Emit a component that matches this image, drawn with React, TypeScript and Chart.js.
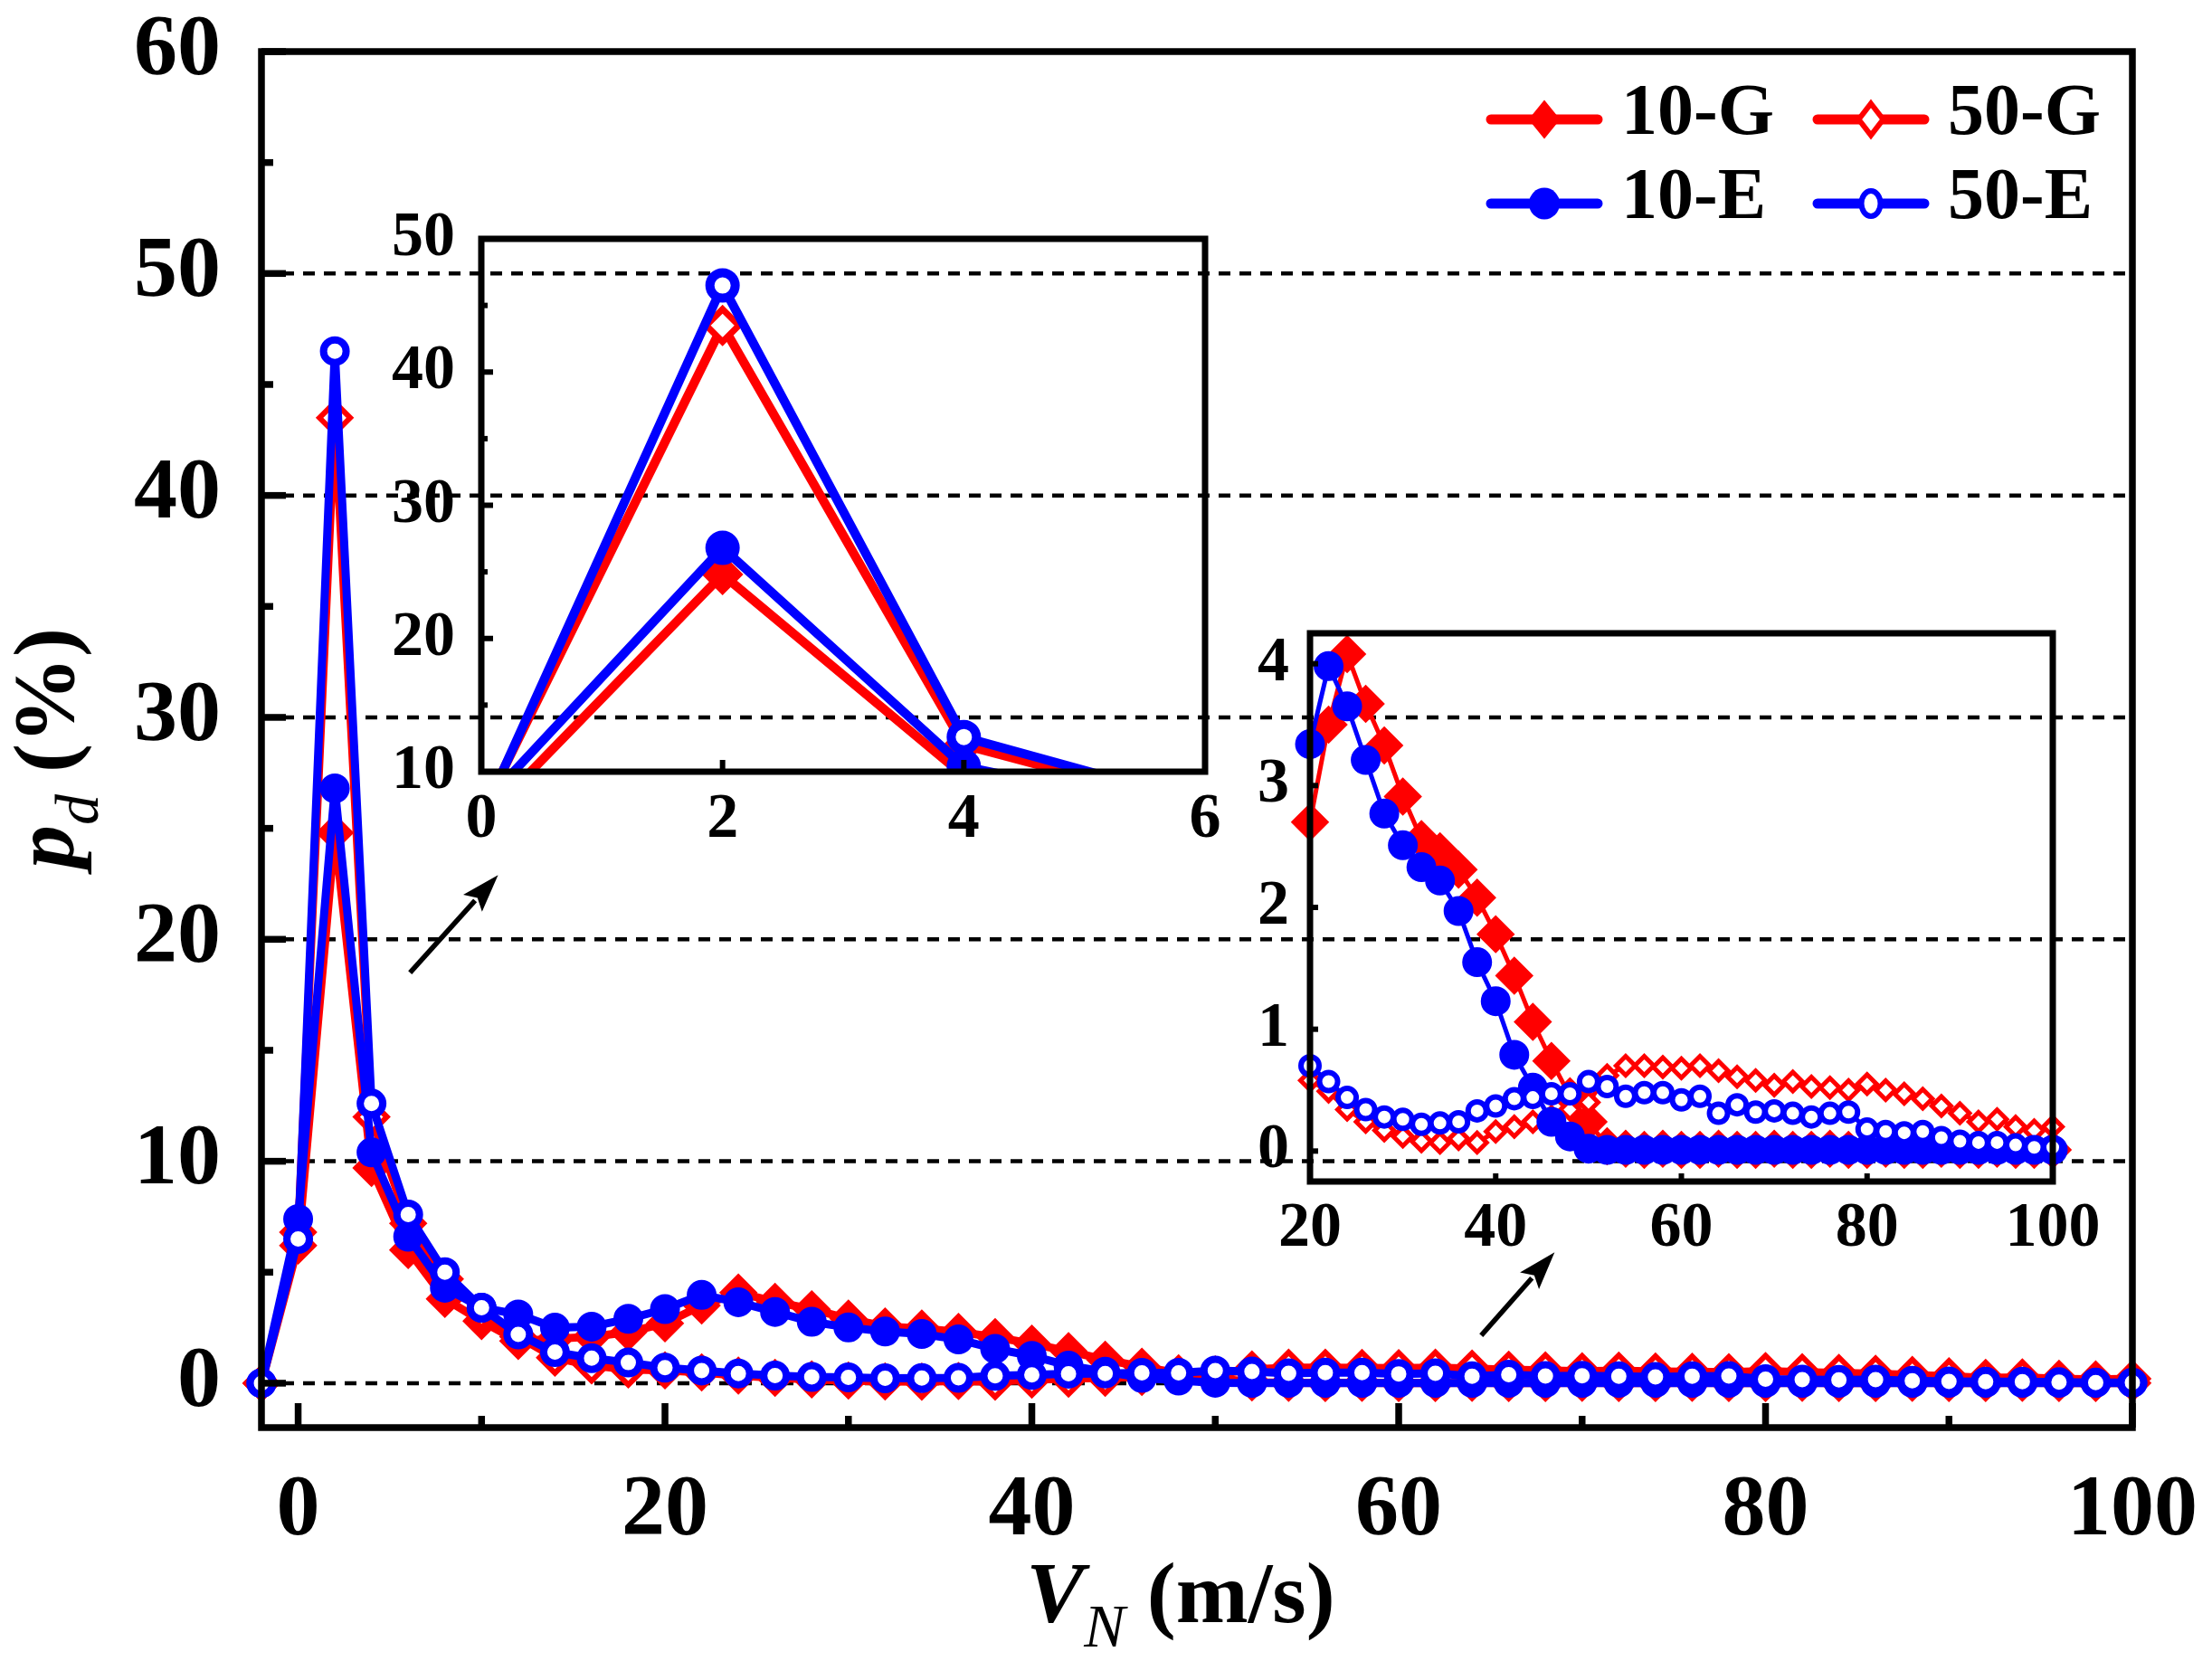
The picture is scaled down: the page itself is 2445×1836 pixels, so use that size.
import React, { useEffect, useRef } from "react";
import { Chart, registerables } from "chart.js";

Chart.register(...registerables);

// ---------------- data ----------------
const velocity = [
  -2, 0, 2, 4, 6, 8, 10, 12, 14, 16, 18, 20, 22, 24, 26, 28, 30, 32, 34, 36, 38, 40, 42, 44, 46, 48, 50,
  52, 54, 56, 58, 60, 62, 64, 66, 68, 70, 72, 74, 76, 78, 80, 82, 84, 86, 88, 90, 92, 94, 96, 98, 100,
];

const pd10G = [
  0, 6.2, 24.8, 9.7, 6.0, 3.8, 2.8, 1.9, 2.0, 2.1, 2.3, 2.7, 3.5, 4.08, 3.67, 3.33, 2.91, 2.56, 2.46, 2.31,
  2.08, 1.78, 1.44, 1.06, 0.74, 0.45, 0.24, 0.04, 0.02, 0.01, 0.02, 0.01, 0.01, 0.02, 0.01, 0.01, 0.02, 0.01,
  0.01, 0.02, 0.01, 0.01, 0.02, 0.01, 0.01, 0.02, 0.01, 0.01, 0.02, 0.01, 0.01, 0.01,
];

const pd50G = [
  0, 6.8, 43.5, 12.0, 7.2, 4.7, 3.2, 2.1, 1.15, 0.8, 0.62, 0.58, 0.49, 0.34, 0.24, 0.17, 0.12, 0.08, 0.07,
  0.1, 0.07, 0.16, 0.2, 0.24, 0.28, 0.34, 0.4, 0.62, 0.7, 0.7, 0.69, 0.68, 0.7, 0.66, 0.61, 0.58, 0.54, 0.57,
  0.53, 0.52, 0.5, 0.55, 0.5, 0.47, 0.43, 0.37, 0.31, 0.24, 0.26, 0.2, 0.17, 0.2,
];

const pd10E = [
  0, 7.4, 26.8, 10.4, 6.6, 4.3, 3.4, 3.1, 2.5, 2.55, 2.9, 3.34, 3.98, 3.65, 3.21, 2.77, 2.51, 2.33, 2.22,
  1.97, 1.55, 1.23, 0.79, 0.52, 0.24, 0.12, 0.02, 0.01, 0.01, 0.01, 0.01, 0.01, 0.01, 0.01, 0.01, 0.01, 0.01,
  0.01, 0.01, 0.01, 0.01, 0.01, 0.01, 0.01, 0.01, 0.01, 0.01, 0.01, 0.01, 0.01, 0.01, 0.01,
];

const pd50E = [
  0, 6.5, 46.5, 12.6, 7.6, 5.0, 3.4, 2.2, 1.4, 1.13, 0.93, 0.7, 0.57, 0.44, 0.34, 0.28, 0.26, 0.22, 0.23,
  0.24, 0.33, 0.37, 0.43, 0.44, 0.47, 0.47, 0.57, 0.53, 0.45, 0.48, 0.48, 0.42, 0.45, 0.31, 0.38, 0.32, 0.33,
  0.31, 0.28, 0.31, 0.32, 0.18, 0.16, 0.15, 0.16, 0.11, 0.08, 0.07, 0.07, 0.05, 0.03, 0.03,
];

const seriesLabels = ["10-G", "50-G", "10-E", "50-E"];

const mainXTicks = [0, 20, 40, 60, 80, 100];
const mainXMinor = [10, 30, 50, 70, 90];
const mainYTicks = [0, 10, 20, 30, 40, 50, 60];
const mainYMinor = [5, 15, 25, 35, 45, 55];
const mainGridValues = [0, 10, 20, 30, 40, 50];

const inset1XTicks = [0, 2, 4, 6];
const inset1YTicks = [10, 20, 30, 40, 50];
const inset1YMinor = [15, 25, 35, 45];

const inset2XTicks = [20, 40, 60, 80, 100];
const inset2YTicks = [0, 1, 2, 3, 4];

// annotation arrows (data coordinates of the main plot)
const arrowFrom = [
  [6.1, 18.5],
  [64.5, 2.15],
];
const arrowTo = [
  [10.9, 22.9],
  [68.5, 5.9],
];

// ---------------- styling ----------------
const FONT = "'Liberation Serif', 'Times New Roman', Times, serif";
const W = 2445;
const H = 1836;
const RED = "#ff0000";
const BLUE = "#0000ff";

type Box = { left: number; top: number; right: number; bottom: number };
const MAIN_BOX: Box = { left: 289, top: 57, right: 2357, bottom: 1578 };
const INSET1_BOX: Box = { left: 532, top: 264, right: 1332, bottom: 853 };
const INSET2_BOX: Box = { left: 1448, top: 700, right: 2269, bottom: 1306 };

const SERIES = [
  { label: seriesLabels[0], values: pd10G, color: RED, shape: "rectRot", open: false, order: 3, group: 10 },
  { label: seriesLabels[1], values: pd50G, color: RED, shape: "rectRot", open: true, order: 2, group: 50 },
  { label: seriesLabels[2], values: pd10E, color: BLUE, shape: "circle", open: false, order: 1, group: 10 },
  { label: seriesLabels[3], values: pd50E, color: BLUE, shape: "circle", open: true, order: 0, group: 50 },
];

type SizeFn = (s: (typeof SERIES)[number]) => [number, number];

function makeDatasets(lineWidth: number, size: SizeFn, xMin: number, xMax: number, clip: any) {
  return SERIES.map((s) => {
    const [r, bw] = size(s);
    return {
      label: s.label,
      data: velocity
        .map((x, i) => ({ x, y: s.values[i] }))
        .filter((p) => p.x >= xMin && p.x <= xMax),
      borderColor: s.color,
      backgroundColor: s.color,
      borderWidth: lineWidth,
      pointStyle: s.shape,
      pointRadius: r,
      pointHoverRadius: r,
      pointBorderWidth: bw,
      pointBackgroundColor: s.open ? "#ffffff" : s.color,
      pointBorderColor: s.color,
      order: s.order,
      clip,
      tension: 0,
    };
  });
}

type FrameOpts = {
  boxWidth: number;
  tickWidth: number;
  majorLen: number;
  minorLen: number;
  xMajor: number[];
  xMinor: number[];
  yMajor: number[];
  yMinor: number[];
  grid: number[];
};

function makeFramePlugin(o: FrameOpts) {
  return {
    id: "frameDecor",
    beforeDatasetsDraw(chart: any) {
      if (!o.grid.length) return;
      const { ctx, chartArea: a } = chart;
      const y = chart.scales.y;
      ctx.save();
      ctx.strokeStyle = "#000";
      ctx.lineWidth = 4.5;
      ctx.setLineDash([13, 10]);
      ctx.lineCap = "butt";
      for (const v of o.grid) {
        const py = y.getPixelForValue(v);
        ctx.beginPath();
        ctx.moveTo(a.left, py);
        ctx.lineTo(a.right, py);
        ctx.stroke();
      }
      ctx.restore();
    },
    afterDatasetsDraw(chart: any) {
      const { ctx, chartArea: a } = chart;
      const { x, y } = chart.scales;
      ctx.save();
      ctx.strokeStyle = "#000";
      ctx.setLineDash([]);
      ctx.lineCap = "butt";
      ctx.lineWidth = o.tickWidth;
      const seg = (x1: number, y1: number, x2: number, y2: number) => {
        ctx.beginPath();
        ctx.moveTo(x1, y1);
        ctx.lineTo(x2, y2);
        ctx.stroke();
      };
      for (const v of o.yMajor) {
        const py = y.getPixelForValue(v);
        seg(a.left, py, a.left + o.majorLen, py);
      }
      for (const v of o.yMinor) {
        const py = y.getPixelForValue(v);
        seg(a.left, py, a.left + o.minorLen, py);
      }
      for (const v of o.xMajor) {
        const px = x.getPixelForValue(v);
        seg(px, a.bottom, px, a.bottom - o.majorLen);
      }
      for (const v of o.xMinor) {
        const px = x.getPixelForValue(v);
        seg(px, a.bottom, px, a.bottom - o.minorLen);
      }
      ctx.lineWidth = o.boxWidth;
      ctx.lineJoin = "miter";
      ctx.strokeRect(a.left, a.top, a.right - a.left, a.bottom - a.top);
      ctx.restore();
    },
  };
}

function makeArrowPlugin() {
  return {
    id: "arrows",
    afterDatasetsDraw(chart: any) {
      const { ctx } = chart;
      const { x, y } = chart.scales;
      ctx.save();
      ctx.strokeStyle = "#000";
      ctx.fillStyle = "#000";
      ctx.lineWidth = 5.5;
      for (let i = 0; i < arrowFrom.length; i++) {
        const x1 = x.getPixelForValue(arrowFrom[i][0]);
        const y1 = y.getPixelForValue(arrowFrom[i][1]);
        const x2 = x.getPixelForValue(arrowTo[i][0]);
        const y2 = y.getPixelForValue(arrowTo[i][1]);
        const ang = Math.atan2(y2 - y1, x2 - x1);
        const headLen = 42;
        const headHalf = 14;
        const bx = x2 - headLen * Math.cos(ang);
        const by = y2 - headLen * Math.sin(ang);
        ctx.beginPath();
        ctx.moveTo(x1, y1);
        ctx.lineTo(bx + 4 * Math.cos(ang), by + 4 * Math.sin(ang));
        ctx.stroke();
        ctx.beginPath();
        ctx.moveTo(x2, y2);
        ctx.lineTo(bx + headHalf * Math.sin(ang), by - headHalf * Math.cos(ang));
        ctx.lineTo(bx + 8 * Math.cos(ang), by + 8 * Math.sin(ang));
        ctx.lineTo(bx - headHalf * Math.sin(ang), by + headHalf * Math.cos(ang));
        ctx.closePath();
        ctx.fill();
      }
      ctx.restore();
    },
  };
}

const LEGEND_COLS = [1642, 2003];
const LEGEND_ROWS = [132, 225];

function makeLegendPlugin() {
  return {
    id: "seriesLegend",
    afterDraw(chart: any) {
      const ctx = chart.ctx;
      SERIES.forEach((s, i) => {
        const x0 = LEGEND_COLS[i % 2];
        const yc = LEGEND_ROWS[Math.floor(i / 2)];
        ctx.save();
        ctx.strokeStyle = s.color;
        ctx.lineWidth = 11;
        ctx.lineCap = "round";
        ctx.beginPath();
        ctx.moveTo(x0 + 6, yc);
        ctx.lineTo(x0 + 124, yc);
        ctx.stroke();
        const cx = x0 + 65;
        ctx.lineCap = "butt";
        ctx.beginPath();
        if (s.shape === "rectRot") {
          const hw = s.open ? 13.5 : 17.5;
          const hh = s.open ? 17.5 : 21.5;
          ctx.moveTo(cx, yc - hh);
          ctx.lineTo(cx + hw, yc);
          ctx.lineTo(cx, yc + hh);
          ctx.lineTo(cx - hw, yc);
          ctx.closePath();
        } else if (s.open) {
          ctx.ellipse(cx, yc, 10.5, 14, 0, 0, Math.PI * 2);
        } else {
          ctx.ellipse(cx, yc, 17, 17.5, 0, 0, Math.PI * 2);
        }
        if (s.open) {
          ctx.fillStyle = "#ffffff";
          ctx.fill();
          ctx.lineWidth = 6;
          ctx.lineJoin = "miter";
          ctx.stroke();
        } else {
          ctx.fillStyle = s.color;
          ctx.fill();
        }
        ctx.fillStyle = "#000";
        ctx.font = `bold 80px ${FONT}`;
        ctx.textAlign = "left";
        ctx.textBaseline = "alphabetic";
        ctx.fillText(s.label, x0 + 150, yc + 16);
        ctx.restore();
      });
    },
  };
}

function zeroPad(s: any) {
  s.paddingLeft = 0;
  s.paddingRight = 0;
  s.paddingTop = 0;
  s.paddingBottom = 0;
}

function makeConfig(p: {
  box: Box;
  xMin: number;
  xMax: number;
  yMin: number;
  yMax: number;
  xTicks: number[];
  yTicks: number[];
  fontSize: number;
  xPad: number;
  yPad: number;
  datasets: any[];
  plugins: any[];
}) {
  const tickFont = { family: FONT, size: p.fontSize, weight: "bold" as const };
  return {
    type: "line" as const,
    data: { datasets: p.datasets },
    options: {
      responsive: false,
      animation: false as const,
      devicePixelRatio: 1,
      events: [] as any[],
      layout: {
        autoPadding: false,
        padding: { left: 0, top: p.box.top, right: W - p.box.right, bottom: 0 },
      },
      plugins: { legend: { display: false }, tooltip: { enabled: false } },
      scales: {
        x: {
          type: "linear" as const,
          min: p.xMin,
          max: p.xMax,
          grid: { display: false },
          border: { display: false },
          afterBuildTicks: (s: any) => {
            s.ticks = p.xTicks.map((v) => ({ value: v }));
          },
          afterFit: (s: any) => {
            s.height = H - p.box.bottom;
            zeroPad(s);
          },
          ticks: {
            font: tickFont,
            color: "#000",
            padding: p.xPad,
            maxRotation: 0,
            minRotation: 0,
            autoSkip: false,
          },
        },
        y: {
          type: "linear" as const,
          min: p.yMin,
          max: p.yMax,
          grid: { display: false },
          border: { display: false },
          afterBuildTicks: (s: any) => {
            s.ticks = p.yTicks.map((v) => ({ value: v }));
          },
          afterFit: (s: any) => {
            s.width = p.box.left;
            zeroPad(s);
          },
          ticks: { font: tickFont, color: "#000", padding: p.yPad, autoSkip: false },
        },
      },
    },
    plugins: p.plugins,
  };
}

export default function App() {
  const mainRef = useRef<HTMLCanvasElement>(null);
  const in1Ref = useRef<HTMLCanvasElement>(null);
  const in2Ref = useRef<HTMLCanvasElement>(null);

  useEffect(() => {
    const charts: Chart[] = [];

    const mainSize: SizeFn = (s) => (s.shape === "circle" ? [12.5, 8] : [17, 6]);
    charts.push(
      new Chart(
        mainRef.current as HTMLCanvasElement,
        makeConfig({
          box: MAIN_BOX,
          xMin: -2,
          xMax: 100,
          yMin: -2,
          yMax: 60,
          xTicks: mainXTicks,
          yTicks: mainYTicks,
          fontSize: 96,
          xPad: 28,
          yPad: 37,
          datasets: makeDatasets(9, mainSize, -2, 100, false),
          plugins: [
            makeFramePlugin({
              boxWidth: 7.5,
              tickWidth: 7.5,
              majorLen: 27,
              minorLen: 13,
              xMajor: mainXTicks,
              xMinor: mainXMinor,
              yMajor: mainYTicks,
              yMinor: mainYMinor,
              grid: mainGridValues,
            }),
            makeArrowPlugin(),
            makeLegendPlugin(),
          ],
        }) as any
      )
    );

    const in1Size: SizeFn = (s) => (s.shape === "circle" ? [14, 10] : [18, 7]);
    charts.push(
      new Chart(
        in1Ref.current as HTMLCanvasElement,
        makeConfig({
          box: INSET1_BOX,
          xMin: 0,
          xMax: 6,
          yMin: 10,
          yMax: 50,
          xTicks: inset1XTicks,
          yTicks: inset1YTicks,
          fontSize: 70,
          xPad: 4,
          yPad: 21,
          datasets: makeDatasets(10, in1Size, 0, 6, 0),
          plugins: [
            makeFramePlugin({
              boxWidth: 7,
              tickWidth: 6,
              majorLen: 13,
              minorLen: 7,
              xMajor: inset1XTicks,
              xMinor: [],
              yMajor: inset1YTicks,
              yMinor: inset1YMinor,
              grid: [],
            }),
          ],
        }) as any
      )
    );

    const in2Size: SizeFn = (s) => {
      if (s.group === 10) return s.shape === "circle" ? [12.5, 8] : [17, 6];
      return s.shape === "circle" ? [10, 6] : [10.5, 5];
    };
    charts.push(
      new Chart(
        in2Ref.current as HTMLCanvasElement,
        makeConfig({
          box: INSET2_BOX,
          xMin: 20,
          xMax: 100,
          yMin: -0.25,
          yMax: 4.25,
          xTicks: inset2XTicks,
          yTicks: inset2YTicks,
          fontSize: 70,
          xPad: 3,
          yPad: 15,
          datasets: makeDatasets(5, in2Size, 20, 100, false),
          plugins: [
            makeFramePlugin({
              boxWidth: 7,
              tickWidth: 6,
              majorLen: 9,
              minorLen: 5,
              xMajor: inset2XTicks,
              xMinor: [],
              yMajor: inset2YTicks,
              yMinor: [],
              grid: [],
            }),
          ],
        }) as any
      )
    );

    return () => charts.forEach((c) => c.destroy());
  }, []);

  const canvasStyle: React.CSSProperties = { position: "absolute", left: 0, top: 0, width: W, height: H };
  const titleBase: React.CSSProperties = {
    position: "absolute",
    fontFamily: FONT,
    fontWeight: "bold",
    fontSize: 96,
    lineHeight: 1,
    whiteSpace: "nowrap",
    color: "#000",
  };
  const subStyle: React.CSSProperties = {
    fontStyle: "italic",
    fontWeight: "normal",
    fontSize: 68,
    position: "relative",
    top: 27,
  };

  return (
    <div style={{ position: "absolute", left: 0, top: 0, width: W, height: H, background: "#fff", overflow: "hidden" }}>
      <canvas ref={mainRef} width={W} height={H} style={canvasStyle} />
      <canvas ref={in1Ref} width={W} height={H} style={canvasStyle} />
      <canvas ref={in2Ref} width={W} height={H} style={canvasStyle} />
      <div style={{ ...titleBase, left: 1305, top: 1713, transform: "translateX(-50%)" }}>
        <span style={{ fontStyle: "italic" }}>V</span><span style={subStyle}>N</span>{" (m/s)"}
      </div>
      <div style={{ ...titleBase, left: 49, top: 827, transform: "translate(-50%, -50%) rotate(-90deg)" }}>
        <span style={{ fontStyle: "italic" }}>p</span><span style={subStyle}>d</span>{" (%)"}
      </div>
    </div>
  );
}
